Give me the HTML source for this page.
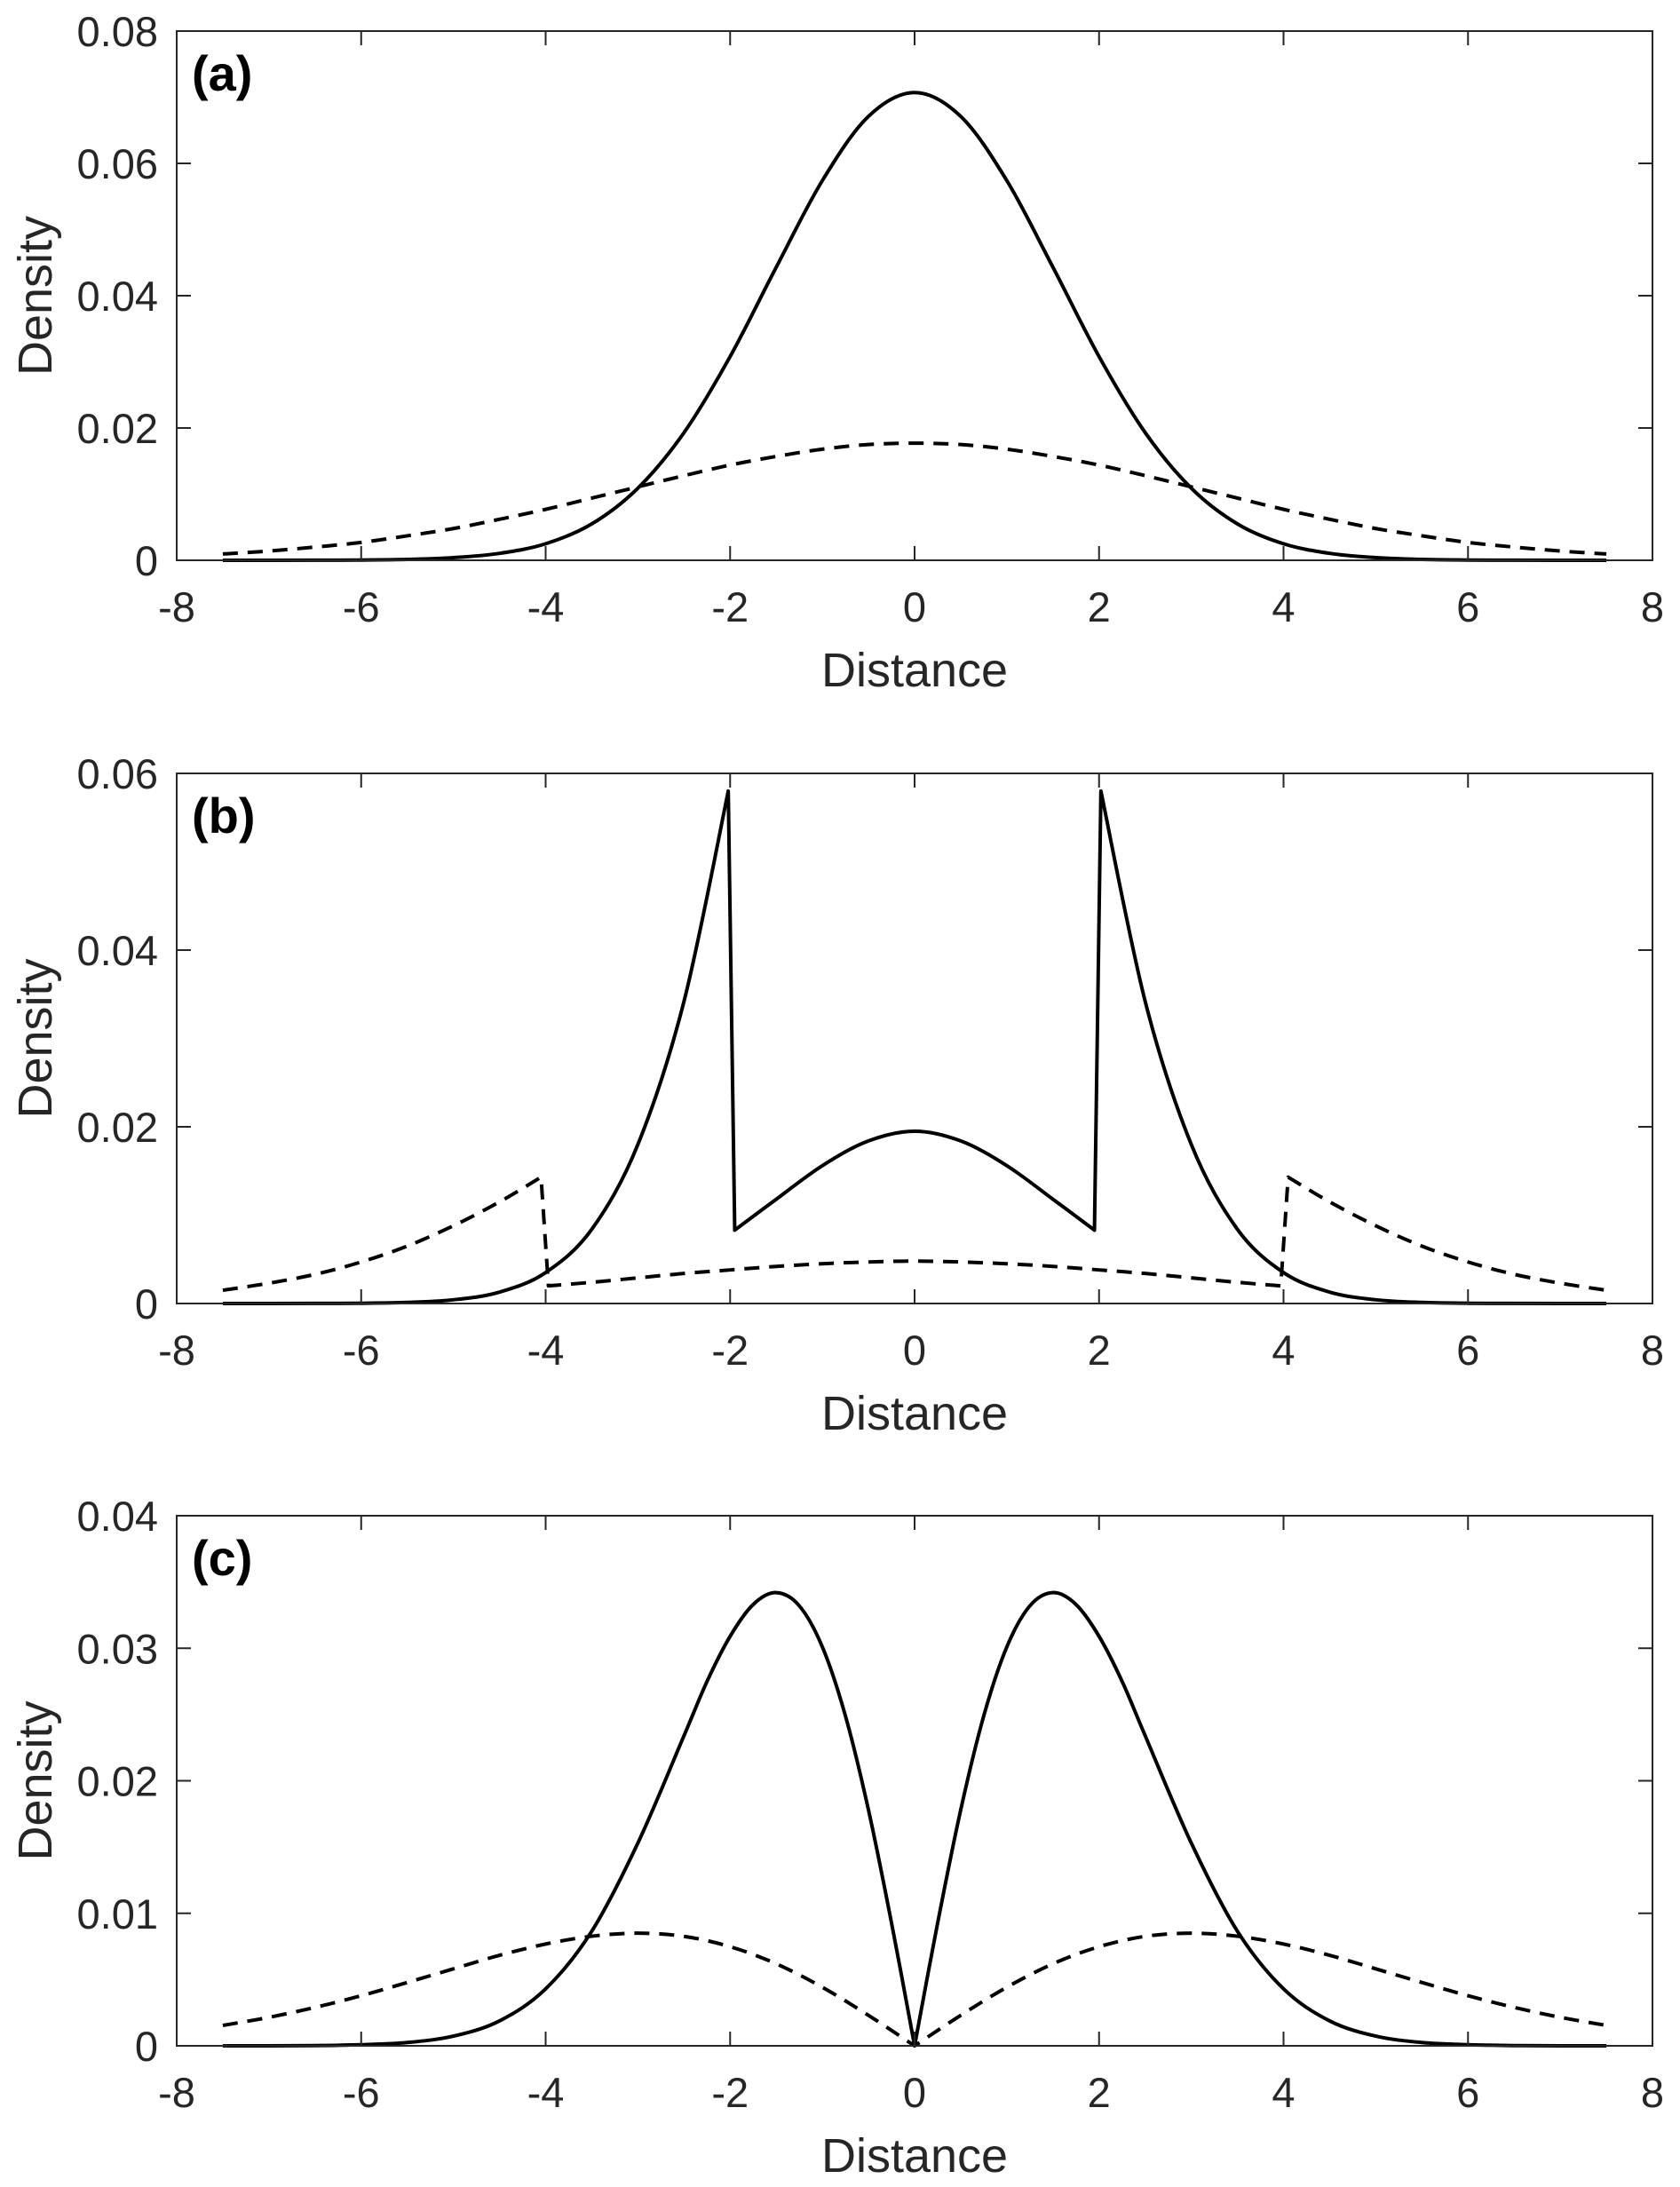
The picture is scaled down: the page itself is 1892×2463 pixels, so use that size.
<!DOCTYPE html>
<html><head><meta charset="utf-8"><style>
html,body{margin:0;padding:0;background:#fff}
svg{display:block;font-family:"Liberation Sans",Arial,sans-serif}
</style></head><body>
<svg id="fig" width="1892" height="2463" viewBox="0 0 1892 2463"></svg>
<script>
// ---- data ----
const xTicks = [-8,-6,-4,-2,0,2,4,6,8];
const yTicksA = [0,0.02,0.04,0.06,0.08];
const yTickLabelsA = ["0","0.02","0.04","0.06","0.08"];
const yTicksB = [0,0.02,0.04,0.06];
const yTickLabelsB = ["0","0.02","0.04","0.06"];
const yTicksC = [0,0.01,0.02,0.03,0.04];
const yTickLabelsC = ["0","0.01","0.02","0.03","0.04"];
const panelLabels = ["(a)","(b)","(c)"];

const xA = [-7.5,-7,-6.5,-6,-5.5,-5,-4.5,-4,-3.5,-3,-2.5,-2,-1.5,-1,-0.5,0,0.5,1,1.5,2,2.5,3,3.5,4,4.5,5,5.5,6,6.5,7,7.5];
const solidA = [0,0,0.00001,0.00004,0.00013,0.0004,0.00105,0.0025,0.0055,0.0109,0.0193,0.0308,0.0443,0.0574,0.0671,0.0707,0.0671,0.0574,0.0443,0.0308,0.0193,0.0109,0.0055,0.0025,0.00105,0.0004,0.00013,0.00004,0.00001,0,0];
const dashA = [0.00095,0.0014,0.0020,0.0027,0.0037,0.0048,0.0062,0.0077,0.0094,0.0111,0.0128,0.0144,0.0157,0.0168,0.0175,0.0177,0.0175,0.0168,0.0157,0.0144,0.0128,0.0111,0.0094,0.0077,0.0062,0.0048,0.0037,0.0027,0.0020,0.0014,0.00095];

// panel b: piecewise segments
const xBSolidOuterL = [-7.5,-7,-6.5,-6,-5.5,-5,-4.5,-4,-3.5,-3,-2.5,-2.02];
const solidBOuterL = [0,0,0.00001,0.00003,0.00012,0.00042,0.00129,0.0035,0.0084,0.0180,0.0342,0.058];
const xBSolidInner = [-1.95,-1.5,-1,-0.5,0,0.5,1,1.5,1.95];
const solidBInner = [0.0083,0.0118,0.0156,0.0184,0.0195,0.0184,0.0156,0.0118,0.0083];
const xBSolidOuterR = [2.02,2.5,3,3.5,4,4.5,5,5.5,6,6.5,7,7.5];
const solidBOuterR = [0.058,0.0342,0.0180,0.0084,0.0035,0.00129,0.00042,0.00012,0.00003,0.00001,0,0];
const xBDashOuterL = [-7.5,-7,-6.5,-6,-5.5,-5,-4.5,-4.05];
const dashBOuterL = [0.0015,0.0023,0.0033,0.0047,0.0065,0.0088,0.0115,0.0143];
const xBDashInner = [-3.97,-3.5,-3,-2.5,-2,-1.5,-1,-0.5,0,0.5,1,1.5,2,2.5,3,3.5,3.97];
const dashBInner = [0.0020,0.0024,0.0029,0.0034,0.0038,0.0042,0.0045,0.0047,0.0048,0.0047,0.0045,0.0042,0.0038,0.0034,0.0029,0.0024,0.0020];
const xBDashOuterR = [4.05,4.5,5,5.5,6,6.5,7,7.5];
const dashBOuterR = [0.0143,0.0115,0.0088,0.0065,0.0047,0.0033,0.0023,0.0015];

// panel c
const xCSolidL = [-7.5,-7,-6.5,-6,-5.5,-5,-4.5,-4,-3.5,-3,-2.5,-2.25,-2,-1.75,-1.5,-1.25,-1,-0.75,-0.5,-0.25,0];
const solidCL = [0,0,0.00002,0.00008,0.00025,0.00073,0.00188,0.0043,0.00865,0.0153,0.0234,0.0275,0.0309,0.0333,0.0342,0.0332,0.0301,0.0249,0.0178,0.00927,0];
const xCSolidR = [0,0.25,0.5,0.75,1,1.25,1.5,1.75,2,2.25,2.5,3,3.5,4,4.5,5,5.5,6,6.5,7,7.5];
const solidCR = [0,0.00927,0.0178,0.0249,0.0301,0.0332,0.0342,0.0333,0.0309,0.0275,0.0234,0.0153,0.00865,0.0043,0.00188,0.00073,0.00025,0.00008,0.00002,0,0];
const xCL = [-7.5,-7,-6.5,-6,-5.5,-5,-4.5,-4,-3.5,-3,-2.5,-2,-1.5,-1,-0.5,0];
const xCR = [0,0.5,1,1.5,2,2.5,3,3.5,4,4.5,5,5.5,6,6.5,7,7.5];
const dashCL = [0.00154,0.00215,0.0029,0.00378,0.00478,0.00581,0.00683,0.00768,0.00827,0.0085,0.00826,0.00748,0.00619,0.00442,0.0023,0];
const dashCR = [0,0.0023,0.00442,0.00619,0.00748,0.00826,0.0085,0.00827,0.00768,0.00683,0.00581,0.00478,0.00378,0.0029,0.00215,0.00154];

// ---- drawing ----
const NS = "http://www.w3.org/2000/svg";
const svg = document.getElementById('fig');
const AX_L = 199, AX_R = 1861, XMIN = -8, XMAX = 8;
function el(tag, attrs, parent){const e=document.createElementNS(NS,tag);for(const k in attrs)e.setAttribute(k,attrs[k]);(parent||svg).appendChild(e);return e;}
function sx(v){return AX_L + (v-XMIN)/(XMAX-XMIN)*(AX_R-AX_L);}

function segPath(pts, start){
  const n=pts.length; const f=v=>v.toFixed(2);
  let d = (start?'M':'L')+f(pts[0][0])+','+f(pts[0][1]);
  for(let i=0;i<n-1;i++){
    const p0=pts[Math.max(0,i-1)], p1=pts[i], p2=pts[i+1], p3=pts[Math.min(n-1,i+2)];
    const c1x=p1[0]+(p2[0]-p0[0])/6, c1y=p1[1]+(p2[1]-p0[1])/6;
    const c2x=p2[0]-(p3[0]-p1[0])/6, c2y=p2[1]-(p3[1]-p1[1])/6;
    d+=` C${f(c1x)},${f(c1y)} ${f(c2x)},${f(c2y)} ${f(p2[0])},${f(p2[1])}`;
  }
  return d;
}

function drawPanel(p){
  const g = el('g',{});
  
  
  const top=p.top, bot=p.bot;
  const sy = v => bot - (v - p.yTicks[0])/(p.yTicks[p.yTicks.length-1]-p.yTicks[0])*(bot-top);
  p.series.forEach(s=>{
    let d='';
    s.segs.forEach((seg,k)=>{ const pts=seg.x.map((xv,i)=>[sx(xv),Math.min(bot,sy(seg.y[i]))]); d+=segPath(pts,k===0)+' '; });
    const path = el('path',{d:d,fill:'none',stroke:'#000','stroke-width':4,'stroke-dasharray':s.dash?'17 11':'none','stroke-linejoin':'round'},g);
    
    
  });
  const box = el('rect',{x:AX_L,y:top,width:AX_R-AX_L,height:bot-top,fill:'none',stroke:'#262626','stroke-width':2},g);
  
  
  xTicks.forEach(v=>{
    const x=sx(v);
    el('line',{x1:x,y1:bot,x2:x,y2:bot-16,stroke:'#262626','stroke-width':2},g);
    el('line',{x1:x,y1:top,x2:x,y2:top+16,stroke:'#262626','stroke-width':2},g);
    const t=el('text',{x:x,y:bot+69,'text-anchor':'middle','font-size':47,fill:'#262626'},g);
    t.textContent=String(v);
    
    
  });
  p.yTicks.forEach((v,i)=>{
    const y=sy(v);
    el('line',{x1:AX_L,y1:y,x2:AX_L+16,y2:y,stroke:'#262626','stroke-width':2},g);
    el('line',{x1:AX_R,y1:y,x2:AX_R-16,y2:y,stroke:'#262626','stroke-width':2},g);
    const t=el('text',{x:178,y:y+17,'text-anchor':'end','font-size':47,fill:'#262626'},g);
    t.textContent=p.yLabels[i];
    
    
  });
  const xl=el('text',{x:(AX_L+AX_R)/2,y:bot+142,'text-anchor':'middle','font-size':54,fill:'#262626'},g);
  xl.textContent='Distance';
  
  
  const cy=(top+bot)/2;
  const yl=el('text',{x:58,y:cy,'text-anchor':'middle','font-size':54,fill:'#262626',transform:`rotate(-90 58 ${cy})`},g);
  yl.textContent='Density';
  
  
  const pl=el('text',{x:216,y:top+67,'font-size':56,'font-weight':'bold',fill:'#000'},g);
  pl.textContent=p.label;
  
  
}

drawPanel({name:'panel-a',top:35,bot:631,yTicks:yTicksA,yLabels:yTickLabelsA,label:panelLabels[0],series:[
  {name:'solid-curve-a',dash:false,segs:[{x:xA,y:solidA}]},
  {name:'dashed-curve-a',dash:true,segs:[{x:xA,y:dashA}]}]});
drawPanel({name:'panel-b',top:871,bot:1468,yTicks:yTicksB,yLabels:yTickLabelsB,label:panelLabels[1],series:[
  {name:'solid-curve-b',dash:false,segs:[{x:xBSolidOuterL,y:solidBOuterL},{x:xBSolidInner,y:solidBInner},{x:xBSolidOuterR,y:solidBOuterR}]},
  {name:'dashed-curve-b',dash:true,segs:[{x:xBDashOuterL,y:dashBOuterL},{x:xBDashInner,y:dashBInner},{x:xBDashOuterR,y:dashBOuterR}]}]});
drawPanel({name:'panel-c',top:1707,bot:2304,yTicks:yTicksC,yLabels:yTickLabelsC,label:panelLabels[2],series:[
  {name:'solid-curve-c',dash:false,segs:[{x:xCSolidL,y:solidCL},{x:xCSolidR,y:solidCR}]},
  {name:'dashed-curve-c',dash:true,segs:[{x:xCL,y:dashCL},{x:xCR,y:dashCR}]}]});
</script>
</body></html>
